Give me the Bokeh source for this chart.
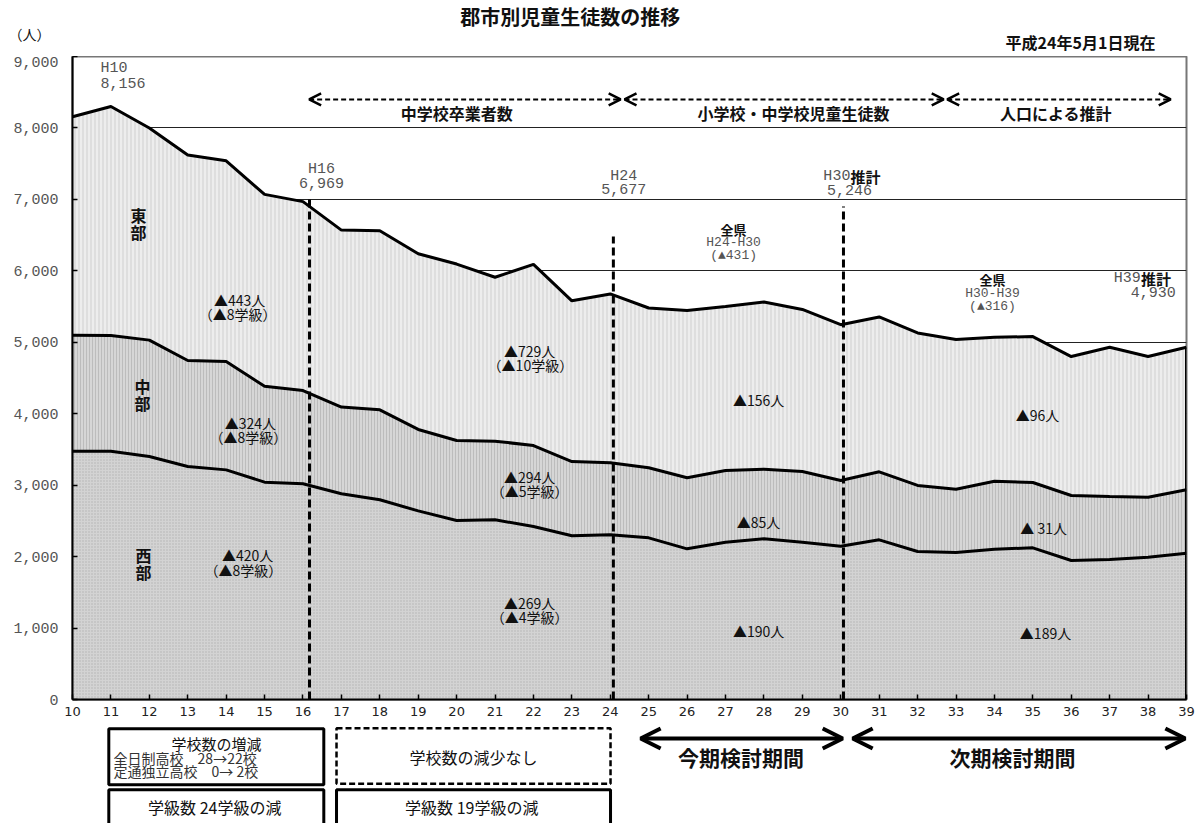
import numpy as np
from bokeh.plotting import figure
from bokeh.models import (ColumnDataSource, Range1d, Arrow, OpenHead, FixedTicker,
                          NumeralTickFormatter)
from bokeh.layouts import column
from bokeh.transform import stack
from bokeh.core.properties import value
from bokeh.embed import file_html
from bokeh.resources import INLINE

# ---------------- data ----------------
years = list(range(10, 40))   # 平成10年 .. 平成39年
west = [3475, 3475, 3401, 3261, 3214, 3042, 3019, 2879, 2795, 2640,
        2506, 2515, 2422, 2291, 2305, 2263, 2109, 2202, 2249, 2202,
        2146, 2235, 2071, 2057, 2104, 2123, 1946, 1960, 1992, 2048]
central = [1625, 1620, 1629, 1484, 1516, 1343, 1306, 1214, 1260, 1140,
           1119, 1101, 1133, 1040, 1008, 980, 994, 1003, 975, 990,
           920, 952, 925, 887, 952, 914, 909, 881, 840, 887]
east = [3056, 3205, 2970, 2875, 2810, 2685, 2644, 2477, 2505, 2460,
        2470, 2294, 2535, 2249, 2364, 2237, 2342, 2295, 2341, 2268,
        2180, 2168, 2134, 2096, 2014, 2043, 1945, 2089, 1968, 1995]
region_names = ["西部", "中部", "東部"]
y_ticks = [0, 1000, 2000, 3000, 4000, 5000, 6000, 7000, 8000, 9000]
unit_label = "（人）"
period_marks = [16.17, 24.08, 30.07]
period_tops = [7000, 6480, 6900]

JP = value("Noto Sans CJK JP")
MONO = value("Liberation Mono")
W = 1198
XR = Range1d(10, 39)

# ---------------- header ----------------
head = figure(width=W, height=56, x_range=XR, y_range=Range1d(56, 0),
              output_backend="svg", toolbar_location=None,
              x_axis_location=None, y_axis_location="left",
              min_border_left=72, min_border_right=12, min_border_top=0, min_border_bottom=0)
head.outline_line_color = None
head.grid.visible = False
head.yaxis.ticker = FixedTicker(ticks=[33])
head.yaxis.major_label_overrides = {33: unit_label}
head.yaxis.axis_line_color = None
head.yaxis.major_tick_line_color = None
head.yaxis.major_tick_in = 0
head.yaxis.major_tick_out = 0
head.yaxis.minor_tick_line_color = None
head.yaxis.minor_tick_in = 0
head.yaxis.minor_tick_out = 0
head.yaxis.major_label_standoff = 22
head.yaxis.major_label_text_font = "Noto Sans CJK JP"
head.yaxis.major_label_text_font_size = "14px"
head.yaxis.major_label_text_color = "#111111"
head.text(x=[22.96], y=[16], text=["郡市別児童生徒数の推移"], text_font=JP,
          text_font_style="bold", text_font_size="20px", text_align="center",
          text_baseline="middle", text_color="#111111")
head.text(x=[38.19], y=[41], text=["平成24年5月1日現在"], text_font=JP,
          text_font_style="bold", text_font_size="16px", text_align="right",
          text_baseline="middle", text_color="#111111")

# ---------------- main chart ----------------
p = figure(width=W, height=669, x_range=XR, y_range=Range1d(0, 9000),
           output_backend="svg", toolbar_location=None,
           min_border_left=72, min_border_right=12, min_border_top=0, min_border_bottom=26)
p.outline_line_color = "#777777"
p.outline_line_width = 2
p.background_fill_color = "white"

src = ColumnDataSource(dict(year=years, west=west, central=central, east=east))
layers = ["west", "central", "east"]
p.varea_stack(layers, x="year", source=src,
              fill_color=["#d3d3d3", "#d6d6d6", "#ededed"],
              hatch_pattern=["dot", "vertical_line", "vertical_line"],
              hatch_color=["#b0b0b0", "#bcbcbc", "#cfcfcf"],
              hatch_scale=[3, 3, 4], hatch_weight=[1, 1, 1],
              legend_label=region_names)
p.legend.visible = False
for i in range(1, 4):
    p.line(x="year", y=stack(*layers[:i]), source=src, line_color="black", line_width=3)
last_total = west[-1] + central[-1] + east[-1]
p.segment(x0=[years[-1]], y0=[0], x1=[years[-1]], y1=[last_total],
          line_color="black", line_width=3)

# dashed period lines
p.segment(x0=period_marks, y0=[0, 0, 0], x1=period_marks, y1=period_tops,
          line_color="black", line_width=3, line_dash="8 4")

# axes
p.xgrid.visible = False
p.ygrid.ticker = FixedTicker(ticks=y_ticks)
p.ygrid.grid_line_color = "#222222"
p.ygrid.grid_line_width = 1
p.xaxis.ticker = FixedTicker(ticks=years)
p.yaxis.ticker = FixedTicker(ticks=y_ticks)
p.yaxis.formatter = NumeralTickFormatter(format="0,0")
for ax in (p.xaxis, p.yaxis):
    ax.axis_line_color = "black"
    ax.axis_line_width = 2
    ax.major_tick_in = 5
    ax.major_tick_out = 0
    ax.major_tick_line_color = "black"
    ax.major_tick_line_width = 1.5
    ax.minor_tick_line_color = None
p.yaxis.major_label_text_font = "Liberation Mono"
p.yaxis.major_label_text_font_size = "15px"
p.yaxis.major_label_text_color = "#555555"
p.yaxis.major_label_standoff = 14
p.xaxis.major_label_text_font = "DejaVu Sans"
p.xaxis.major_label_text_font_size = "13px"
p.xaxis.major_label_text_color = "#222222"
p.xaxis.major_label_standoff = 7

# header arrows and band titles
for xs, xe in [(16.16, 24.27), (24.37, 32.68), (32.77, 38.59)]:
    p.add_layout(Arrow(x_start=xs, y_start=8399, x_end=xe, y_end=8399,
                       line_color="black", line_width=2, line_dash="5 3",
                       start=OpenHead(size=12, line_width=2.5),
                       end=OpenHead(size=12, line_width=2.5)))
p.text(x=[20.0, 28.77, 35.6], y=[8203, 8203, 8203],
       text=["中学校卒業者数", "小学校・中学校児童生徒数", "人口による推計"],
       text_font=JP, text_font_style="bold", text_font_size="16px",
       text_align="center", text_baseline="middle", text_color="#111111")

# gray mono value labels
p.text(x=[10.73, 10.73], y=[8833, 8623], text=["H10", "8,156"], text_font=MONO,
       text_font_size="15px", text_align="left", text_baseline="middle", text_color="#555555")
p.text(x=[16.48, 16.48, 24.35, 24.35, 30.23], y=[7419, 7223, 7321, 7139, 7125],
       text=["H16", "6,969", "H24", "5,677", "5,246"], text_font=MONO,
       text_font_size="15px", text_align="center", text_baseline="middle", text_color="#555555")
p.text(x=[30.25, 37.81, 38.72], y=[7321, 5893, 5697], text=["H30", "H39", "4,930"],
       text_font=MONO, text_font_size="15px", text_align="right", text_baseline="middle",
       text_color="#555555")
p.text(x=[30.255, 37.815], y=[7321, 5893], text=["推計", "推計"], text_font=JP,
       text_font_style="bold", text_font_size="15px", text_align="left",
       text_baseline="middle", text_color="#111111")
p.text(x=[27.21, 33.95], y=[6579, 5879], text=["全県", "全県"], text_font=JP,
       text_font_style="bold", text_font_size="13px", text_align="center",
       text_baseline="middle", text_color="#111111")
p.text(x=[27.21, 27.21, 33.95, 33.95], y=[6397, 6215, 5683, 5501],
       text=["H24-H30", "(▲431)", "H30-H39", "(▲316)"], text_font=MONO,
       text_font_size="13px", text_align="center", text_baseline="middle", text_color="#555555")

# region names
p.text(x=[11.72, 11.72, 11.82, 11.82, 11.85, 11.85],
       y=[6775, 6537, 4395, 4157, 2016, 1778],
       text=["東", "部", "中", "部", "西", "部"], text_font=JP, text_font_style="bold",
       text_font_size="16px", text_align="center", text_baseline="middle", text_color="#111111")

# decline labels
dec_x = [14.35, 14.3, 14.63, 14.58, 14.56, 14.45,
         21.9, 21.92, 21.9, 21.9, 21.9, 21.9,
         27.86, 27.86, 27.86, 35.12, 35.28, 35.33]
dec_y = [5585, 5389, 3877, 3681, 2016, 1806,
         4871, 4675, 3108, 2912, 1344, 1148,
         4199, 2478, 952, 3989, 2394, 924]
dec_t = ["▲443人", "（▲8学級）", "▲324人", "（▲8学級）", "▲420人", "（▲8学級）",
         "▲729人", "（▲10学級）", "▲294人", "（▲5学級）", "▲269人", "（▲4学級）",
         "▲156人", "▲85人", "▲190人", "▲96人", "▲ 31人", "▲189人"]
p.text(x=dec_x, y=dec_y, text=dec_t, text_font=JP, text_font_size="14px",
       text_align="center", text_baseline="middle", text_color="#111111")

# ---------------- footer ----------------
foot = figure(width=W, height=98, x_range=XR, y_range=Range1d(823, 725),
              output_backend="svg", toolbar_location=None,
              x_axis_location=None, y_axis_location=None,
              min_border_left=72, min_border_right=12, min_border_top=0, min_border_bottom=0)
foot.outline_line_color = None
foot.grid.visible = False
foot.quad(left=[10.945, 10.945, 16.873], right=[16.542, 16.542, 24.006],
          top=[728.3, 789.3, 789.3], bottom=[784.3, 840, 840],
          fill_color=None, line_color="black", line_width=3)
foot.quad(left=[16.873], right=[24.006], top=[727.7], bottom=[783.3],
          fill_color=None, line_color="black", line_width=2.5, line_dash="6 3")
foot.text(x=[13.75], y=[743], text=["学校数の増減"], text_font=JP, text_font_size="15px",
          text_align="center", text_baseline="middle", text_color="#111111")
foot.text(x=[11.07, 11.07], y=[757, 770], text=["全日制高校　28→22校", "定通独立高校　0→ 2校"],
          text_font=JP, text_font_size="14px", text_align="left", text_baseline="middle",
          text_color="#333333")
foot.text(x=[20.44, 13.75, 20.44], y=[756, 806, 806],
          text=["学校数の減少なし", "学級数  24学級の減", "学級数  19学級の減"],
          text_font=JP, text_font_size="16px", text_align="center", text_baseline="middle",
          text_color="#111111")
for xs, xe in [(24.79, 30.05), (30.31, 38.97)]:
    foot.add_layout(Arrow(x_start=xs, y_start=738, x_end=xe, y_end=738,
                          line_color="black", line_width=4,
                          start=OpenHead(size=20, line_width=4),
                          end=OpenHead(size=20, line_width=4)))
foot.text(x=[27.40, 34.47], y=[756, 756], text=["今期検討期間", "次期検討期間"], text_font=JP,
          text_font_style="bold", text_font_size="21px", text_align="center",
          text_baseline="middle", text_color="#111111")

layout = column(head, p, foot)
open("out.html", "w").write(file_html(layout, INLINE))
